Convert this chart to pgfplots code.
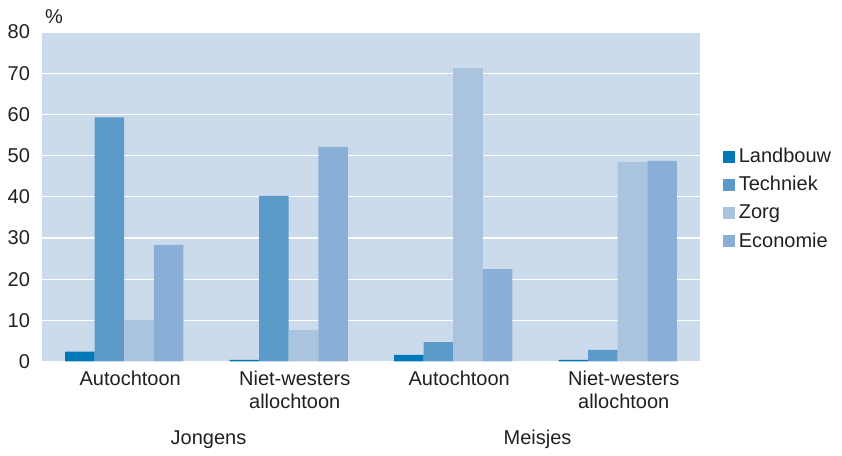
\documentclass[border=0pt]{standalone}
\usepackage{pgfplots}
\pgfplotsset{compat=1.18}
\usepackage{fontspec}
\setmainfont{Liberation Sans}

\definecolor{bgblue}{RGB}{204,219,235}
\definecolor{landbouw}{RGB}{0,120,184}
\definecolor{techniek}{RGB}{91,154,201}
\definecolor{zorg}{RGB}{170,196,224}
\definecolor{economie}{RGB}{138,175,214}
\definecolor{txt}{RGB}{35,31,32}

\begin{document}
\begin{tikzpicture}
\begin{axis}[
    scale only axis,
    width=329pt, height=164.75pt,
    ybar=0pt, bar width=0.18,
    xmin=-0.5, xmax=3.5,
    ymin=0, ymax=80,
    xtick={0,1,2,3},
    xticklabels={Autochtoon, {Niet-westers\\allochtoon}, Autochtoon, {Niet-westers\\allochtoon}},
    ytick={0,10,...,80},
    axis line style={draw=none},
    axis background/.style={fill=bgblue},
    ymajorgrids,
    grid style={white, line width=0.6pt},
    major tick length=0pt,
    tick label style={font=\fontsize{10}{11.5}\selectfont, text=txt},
    xticklabel style={align=center, yshift=-1pt, xshift=3pt},
    yticklabel style={xshift=-2.5pt},
    /pgf/number format/assume math mode=true,
    clip=false,
    legend style={at={(1.025,0.493)}, anchor=west, draw=none, fill=none,
                  font=\fontsize{10}{11.5}\selectfont, text=txt,
                  row sep=1.5pt},
    legend cell align=left,
    legend image code/.code={\fill[#1] (-2pt,-3pt) rectangle (4pt,3pt);},
]
\addplot[fill=landbouw, draw=none] coordinates {(0,2.4) (1,0.4) (2,1.6) (3,0.4)};
\addplot[fill=techniek, draw=none] coordinates {(0,59.3) (1,40.2) (2,4.7) (3,2.8)};
\addplot[fill=zorg, draw=none] coordinates {(0,10.1) (1,7.6) (2,71.2) (3,48.4)};
\addplot[fill=economie, draw=none] coordinates {(0,28.3) (1,52.1) (2,22.4) (3,48.7)};
\legend{Landbouw, Techniek, Zorg, Economie}

\coordinate (O) at (rel axis cs:0,0);
\node[text=txt, font=\fontsize{10}{11.5}\selectfont] at (rel axis cs:0,1) [xshift=6pt, yshift=7.5pt] {\%};
\node[text=txt, font=\fontsize{10}{11.5}\selectfont] at (axis cs:0.5,0) [yshift=-39pt, xshift=1pt] {Jongens};
\node[text=txt, font=\fontsize{10}{11.5}\selectfont] at (axis cs:2.5,0) [yshift=-39pt, xshift=1pt] {Meisjes};
\end{axis}
\path[use as bounding box] (O) ++(-21pt,-45.25pt) rectangle ++(421pt,226pt);
\end{tikzpicture}
\end{document}
